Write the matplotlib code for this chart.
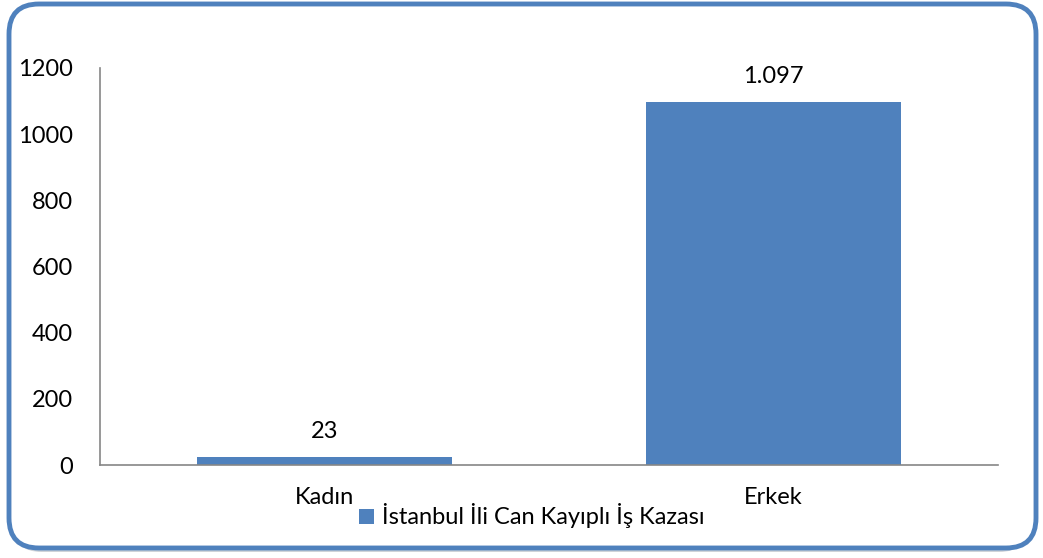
import matplotlib
matplotlib.use("Agg")
import matplotlib.pyplot as plt
from matplotlib.patches import FancyBboxPatch

categories = ["Kadın", "Erkek"]
values = [23, 1097]
value_labels = ["23", "1.097"]
series_name = "İstanbul İli Can Kayıplı İş Kazası"
yticks = [0, 200, 400, 600, 800, 1000, 1200]

plt.rcParams['font.family'] = ['Lato', 'DejaVu Sans']
W, H = 1043, 558
fig = plt.figure(figsize=(W / 100, H / 100), dpi=100)

# background axes in pixel coordinates (y down) for border
bg = fig.add_axes([0, 0, 1, 1])
bg.set_xlim(0, W)
bg.set_ylim(H, 0)
bg.axis('off')
bg.set_zorder(0)
bg.add_patch(FancyBboxPatch((12, 8), 1029 - 12, 552 - 8,
                            boxstyle="round,pad=0,rounding_size=30",
                            facecolor='#cfd3d8', edgecolor='none'))
bg.add_patch(FancyBboxPatch((9, 4), 1036 - 9, 548 - 4,
                            boxstyle="round,pad=0,rounding_size=30",
                            facecolor='white', edgecolor='#4F81BD',
                            linewidth=3.5))

ax = fig.add_axes([100 / W, 1 - 465 / H, (998 - 100) / W, (465 - 68) / H])
ax.set_zorder(2)
ax.patch.set_alpha(0)
x = list(range(len(categories)))
bars = ax.bar(x, values, width=0.57, color='#4F81BD', label=series_name)
ax.set_xlim(-0.5, 1.5)
ax.set_ylim(0, 1200)
fs = 17
ax.set_yticks(yticks)
ax.set_yticklabels([str(t) for t in yticks], fontsize=fs)
ax.set_xticks(x)
ax.set_xticklabels(categories, fontsize=fs)
ax.tick_params(axis='both', length=0)
ax.tick_params(axis='y', pad=19.5)
ax.tick_params(axis='x', pad=16)
for s in ['top', 'right']:
    ax.spines[s].set_visible(False)
for s in ['left', 'bottom']:
    ax.spines[s].set_color('#868686')
    ax.spines[s].set_linewidth(1.2)

for xi, v, lab in zip(x, values, value_labels):
    ax.annotate(lab, (xi, v), xytext=(0, 11), textcoords='offset points',
                ha='center', va='bottom', fontsize=fs)

fig.legend(handles=[bars], labels=[series_name], loc='center',
           bbox_to_anchor=(532 / W, 1 - 516 / H), frameon=False,
           fontsize=fs, handlelength=0.6, handleheight=0.6,
           handletextpad=0.35)

fig.savefig("out.png", dpi=100)
